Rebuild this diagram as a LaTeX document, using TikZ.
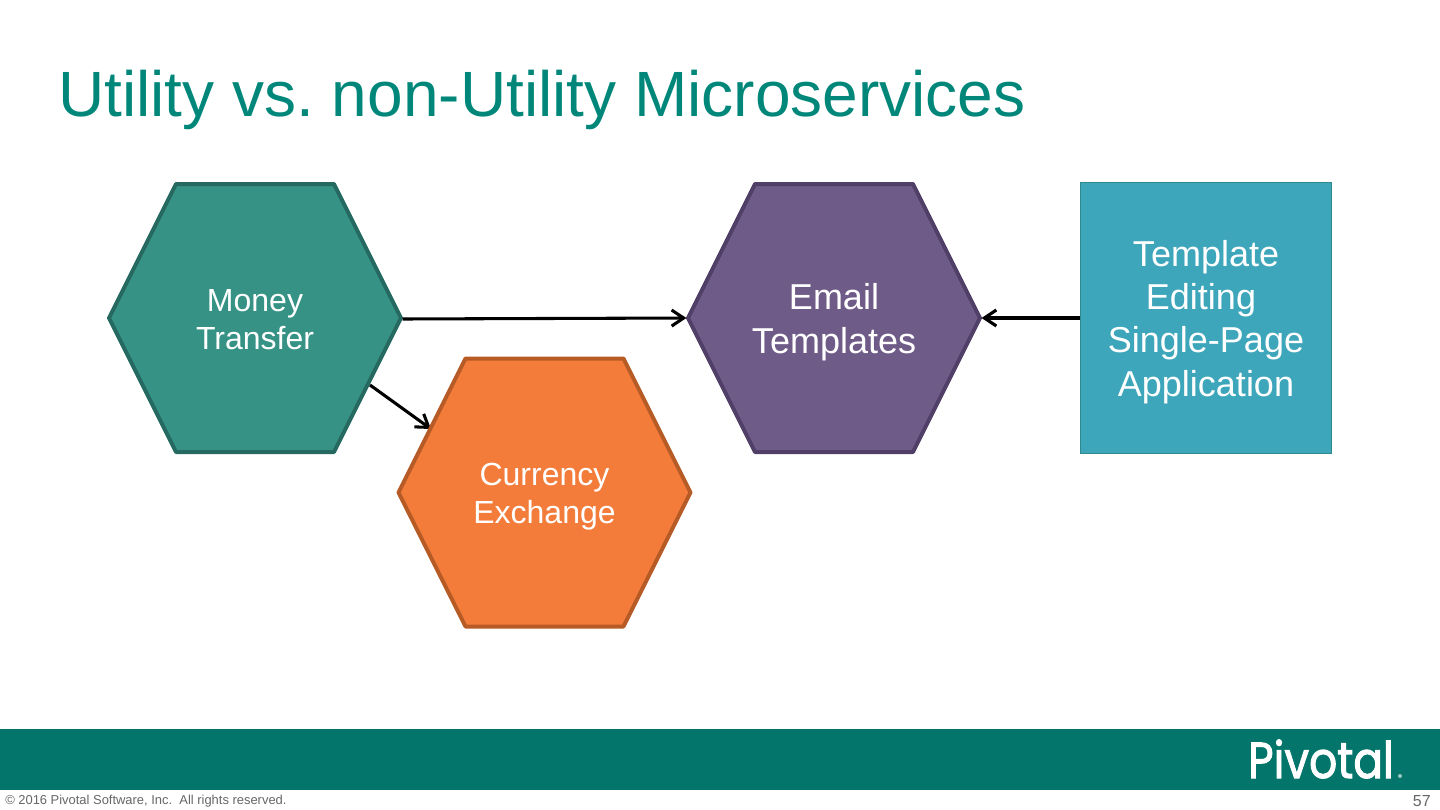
\documentclass[tikz,border=0pt]{standalone}
\usepackage{fontspec}
\setmainfont{Liberation Sans}
\newfontfamily\logofont[FakeBold=2]{Poppins}
\usetikzlibrary{arrows.meta}
\definecolor{titleteal}{RGB}{0,135,122}
\definecolor{bandteal}{RGB}{3,117,106}
\definecolor{moneyfill}{RGB}{53,146,133}
\definecolor{moneyline}{RGB}{37,105,97}
\definecolor{emailfill}{RGB}{111,91,136}
\definecolor{emailline}{RGB}{80,63,102}
\definecolor{currencyfill}{RGB}{243,124,58}
\definecolor{currencyline}{RGB}{183,91,38}
\definecolor{editorfill}{RGB}{62,166,187}
\definecolor{editorline}{RGB}{47,138,141}
\tikzset{
    service/.style={minimum width=221pt, minimum height=200pt, inner sep=0pt, text=white, text depth=0pt,
        align=center, font=\fontsize{24}{28.5}\selectfont},
    uses/.style={-{Straight Barb[length=9pt,width=12pt,line width=2.3pt]}, line width=2.3pt, black},
}
% outline of a service, around the point #1
\newcommand{\hexoutline}[3]{
    \draw[line width=3pt, line join=round, fill=#2, draw=#3] (#1) ++(-146,0) -- ++(67,-134) -- ++(158,0)
        -- ++(67,134) -- ++(-67,134) -- ++(-158,0) -- cycle;
}
\begin{document}
\begin{tikzpicture}[x=0.75pt,y=-0.75pt]
    \useasboundingbox (0,0) rectangle (1440,810);
    \node[anchor=base west, inner sep=0pt, text=titleteal, font=\fontsize{48}{52}\selectfont] (title) at (58,116.5) {Utility vs.\ non-Utility Microservices};
    % connectors go under the shapes
    \coordinate (moneyedge) at (370,385);
    \coordinate (currencyedge) at (431,429);
    \hexoutline{255,318}{moneyfill}{moneyline}
    \node[service] (money) at (255,319) {Money\\Transfer};
    \hexoutline{834,318}{emailfill}{emailline}
    \node[service, font=\fontsize{27}{33}\selectfont] (email) at (834,318) {Email\\Templates};
    \node[draw=editorline, fill=editorfill, line width=1pt, minimum width=188pt, minimum height=203pt, inner sep=0pt,
        text=white, text depth=0pt, align=center, font=\fontsize{27}{32.5}\selectfont] (editor) at (1206,318) {Template\\Editing\ \null\\Single-Page\\Application};
    \draw[uses] (moneyedge) -- (currencyedge);
    \hexoutline{544.5,492.5}{currencyfill}{currencyline}
    \node[service] (currency) at (544.5,493.5) {Currency\\Exchange};
    \draw[uses] (money.east) -- (email.west);
    \draw[uses] (editor.west) -- (email.east);
    % footer
    \fill[bandteal] (0,729) rectangle (1440,790);
    \node[anchor=base, inner sep=0pt, text=white, yscale=1.15, font=\logofont\fontsize{33}{33}\selectfont] (logo) at (1321,778) {Pivotal};
    \fill[white!60!bandteal] (1400,776) circle (2);
    \node[anchor=base west, inner sep=0pt, text=black!60, font=\fontsize{9.7}{11}\selectfont] (copyright) at (5,804) {© 2016 Pivotal Software, Inc.\ \ All rights reserved.};
    \node[anchor=base east, inner sep=0pt, text=black!60, font=\fontsize{12}{14}\selectfont] (pagenum) at (1431,806) {57};
\end{tikzpicture}
\end{document}
